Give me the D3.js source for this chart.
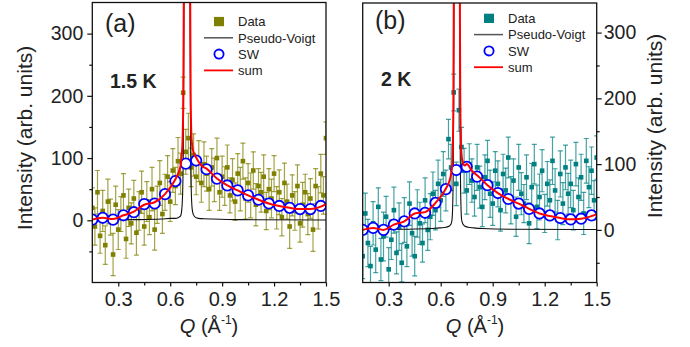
<!DOCTYPE html>
<html>
<head>
<meta charset="utf-8">
<script src="https://cdn.jsdelivr.net/npm/d3@7"></script>
<style>
  body { margin: 0; background: #fff; }
  svg { display: block; }
  text { font-family: "Liberation Sans", Arial, Helvetica, sans-serif; fill: #222; }
</style>
</head>
<body>
<div id="chart"></div>
<script>
// Q grid of the measured points (both panels)
const qGrid = [0.150,0.165,0.180,0.195,0.210,0.225,0.240,0.255,0.270,0.285,
  0.300,0.315,0.330,0.345,0.360,0.375,0.390,0.405,0.420,0.435,
  0.450,0.465,0.480,0.495,0.510,0.525,0.540,0.555,0.570,0.585,
  0.600,0.615,0.630,0.645,0.660,0.675,0.690,0.705,0.720,0.735,
  0.750,0.765,0.780,0.795,0.810,0.825,0.840,0.855,0.870,0.885,
  0.900,0.915,0.930,0.945,0.960,0.975,0.990,1.005,1.020,1.035,
  1.050,1.065,1.080,1.095,1.110,1.125,1.140,1.155,1.170,1.185,
  1.200,1.215,1.230,1.245,1.260,1.275,1.290,1.305,1.320,1.335,
  1.350,1.365,1.380,1.395,1.410,1.425,1.440,1.455,1.470,1.485,
  1.500];

// panel (a) 1.5 K
const dataA = [20,-10,45,-25,15,-40,30,5,-55,25,
  -15,10,40,-30,20,-5,35,-20,15,45,
  -10,30,5,50,-15,25,60,10,45,70,
  30,80,55,95,75,205,110,132,85,105,
  70,95,60,90,75,50,85,65,100,45,
  70,55,85,40,65,30,75,50,95,35,
  60,40,80,25,55,45,70,15,50,35,
  75,20,45,5,60,30,-10,40,15,55,
  -5,25,45,10,35,-15,55,20,75,40,
  132];
const errA = [32,30,35,28,33,31,36,29,34,30,
  32,28,35,31,30,33,29,36,31,34,
  30,32,28,35,33,30,36,31,29,34,
  32,35,30,38,33,25,36,40,31,34,
  29,33,31,36,28,34,30,35,32,29,
  33,31,36,28,34,30,32,35,29,33,
  31,36,30,34,28,32,35,30,33,31,
  29,34,36,30,32,28,35,33,31,34,
  30,36,29,33,32,35,28,34,31,30,
  26];

// panel (b) 2 K
const dataB = [-40,25,-20,-55,10,-30,35,-45,-10,20,
  -60,-15,30,-35,5,-50,15,-25,40,-5,
  -40,25,10,-20,45,0,20,55,30,70,
  45,85,60,138,95,209,70,182,126,90,
  60,100,75,50,95,65,35,80,105,55,
  40,90,70,30,85,60,110,45,75,20,
  95,55,40,80,10,65,100,35,50,90,
  25,70,45,105,60,15,85,40,95,55,
  70,30,100,50,80,25,105,65,90,45,
  110];
const errB = [34,31,36,30,33,35,29,32,37,31,
  33,30,35,32,36,29,34,31,33,35,
  30,36,32,29,34,31,35,33,30,36,
  32,34,31,30,35,28,33,32,30,34,
  36,31,33,29,35,32,30,34,31,36,
  33,29,35,32,30,34,31,36,33,30,
  35,32,29,34,31,36,30,33,35,32,
  29,34,31,36,33,30,35,32,34,31,
  36,30,33,29,35,32,34,31,36,30,
  33];

// spin-wave points (circles)
const swQ = [0.15,0.21,0.27,0.33,0.39,0.45,0.51,0.57,0.63,0.69,0.75,0.81,
  0.87,0.93,0.99,1.05,1.11,1.17,1.23,1.29,1.35,1.41,1.47];
const swA = [1,4,1,8,13,26,27,42,63,91,96,82,67,56,48,40,33,27,23,20,18,18,23];
const swB = [0,3,0,8,13,25,26,41,62,91,96,81,68,56,47,40,32,25,22,18,16,17,22];

// Pseudo-Voigt elastic line
const pvQA = [0.15,0.40,0.55,0.60,0.63,0.65,0.66,0.667,0.672,0.676,0.679,0.682,0.697,
  0.712,0.715,0.718,0.722,0.727,0.734,0.744,0.764,0.794,0.844,1.0,1.5];
const pvA = [0.5,1,2,3,3,5,7,18,45,120,300,600,1000,600,300,120,45,18,9,5,3,2.5,2,1,0.5];
const pvQB = [0.15,0.40,0.55,0.60,0.63,0.65,0.66,0.665,0.669,0.673,0.676,0.679,0.693,
  0.707,0.710,0.713,0.717,0.721,0.728,0.738,0.758,0.79,0.84,1.0,1.5];
const pvB = [0.5,1,2,3,4,6,9,15,35,110,300,600,1000,600,300,110,35,15,9,6,4,3,2,1,0.5];

// sum line
const sumQA = [0.15,0.21,0.27,0.33,0.39,0.45,0.51,0.57,0.63,0.65,0.66,0.667,0.672,0.676,0.679,0.682,
  0.697,0.712,0.715,0.718,0.722,0.727,0.734,0.75,0.764,0.78,0.81,0.87,0.93,0.99,1.05,1.11,1.17,
  1.23,1.29,1.35,1.41,1.47,1.50];
const sumA = [1,4,2,8,14,25,29,42,66,78,88,105,135,210,390,700,1100,700,390,210,140,120,110,
  101,94,88,83,67,56,48,40,33,27,23,20,18,18,22,26];
const sumQB = [0.15,0.21,0.27,0.33,0.39,0.45,0.51,0.57,0.63,0.65,0.66,0.665,0.669,0.673,0.676,0.679,
  0.693,0.707,0.710,0.713,0.717,0.721,0.728,0.738,0.75,0.78,0.81,0.87,0.93,0.99,1.05,1.11,1.17,
  1.23,1.29,1.35,1.41,1.47,1.50];
const sumB = [0,3,0,8,13,25,27,41,63,74,85,95,118,190,380,680,1100,680,380,195,130,112,103,
  98,100,90,83,68,56,47,40,32,25,21,18,16,17,21,24];

const xTicks = [0.3, 0.6, 0.9, 1.2, 1.5];
const xMinor = [0.45, 0.75, 1.05, 1.35];
const yTicks = [0, 100, 200, 300];
const yMinor = [-50, 50, 150, 250];

const svg = d3.select('#chart').append('svg')
  .attr('width', 690)
  .attr('height', 347);

function drawPanel(p) {
  const x = d3.scaleLinear().domain([0.15, 1.5]).range([p.left, p.right]);
  const y = d3.scaleLinear().domain(p.yDomain).range([282.5, p.top]);
  const g = svg.append('g');

  g.append('clipPath').attr('id', 'clip-' + p.id)
    .append('rect')
    .attr('x', p.left).attr('y', p.top)
    .attr('width', p.right - p.left).attr('height', 282.5 - p.top);

  const plot = g.append('g').attr('clip-path', `url(#clip-${p.id})`);

  // error bars
  const pts = qGrid.map((q, i) => ({ q: q, v: p.data[i], e: p.err[i] }));
  const eb = plot.append('g')
    .attr('stroke', p.color)
    .attr('stroke-opacity', 0.72)
    .attr('stroke-width', 1.2);
  eb.selectAll('.bar').data(pts).enter().append('line')
    .attr('x1', d => x(d.q)).attr('x2', d => x(d.q))
    .attr('y1', d => y(d.v - d.e)).attr('y2', d => y(d.v + d.e));
  eb.selectAll('.capT').data(pts).enter().append('line')
    .attr('x1', d => x(d.q) - 2.5).attr('x2', d => x(d.q) + 2.5)
    .attr('y1', d => y(d.v + d.e)).attr('y2', d => y(d.v + d.e));
  eb.selectAll('.capB').data(pts).enter().append('line')
    .attr('x1', d => x(d.q) - 2.5).attr('x2', d => x(d.q) + 2.5)
    .attr('y1', d => y(d.v - d.e)).attr('y2', d => y(d.v - d.e));

  plot.selectAll('.pt').data(pts).enter().append('rect')
    .attr('x', d => x(d.q) - 2.3).attr('y', d => y(d.v) - 2.3)
    .attr('width', 4.6).attr('height', 4.6)
    .attr('fill', p.color);

  const line = d3.line().x(d => x(d[0])).y(d => y(d[1])).curve(d3.curveMonotoneX);

  plot.append('path')
    .datum(p.pvQ.map((q, i) => [q, p.pv[i]]))
    .attr('d', line)
    .attr('fill', 'none').attr('stroke', '#111').attr('stroke-width', 1.1);

  plot.selectAll('.sw').data(swQ.map((q, i) => [q, p.sw[i]])).enter().append('circle')
    .attr('cx', d => x(d[0])).attr('cy', d => y(d[1]))
    .attr('r', 5.2)
    .attr('fill', '#fff').attr('stroke', '#0000ff').attr('stroke-width', 1.8);

  plot.append('path')
    .datum(p.sumQ.map((q, i) => [q, p.sum[i]]))
    .attr('d', line)
    .attr('fill', 'none').attr('stroke', '#ff0000').attr('stroke-width', 2);

  // frame
  g.append('rect')
    .attr('x', p.left).attr('y', p.top)
    .attr('width', p.right - p.left).attr('height', 282.5 - p.top)
    .attr('fill', 'none').attr('stroke', '#111').attr('stroke-width', 1.3);

  // x axis
  const xa = g.append('g').attr('transform', 'translate(0,282.5)')
    .call(d3.axisBottom(x).tickValues(xTicks).tickFormat(d3.format('.1f')).tickSize(4).tickPadding(5));
  g.append('g').attr('transform', 'translate(0,282.5)')
    .call(d3.axisBottom(x).tickValues(xMinor).tickFormat('').tickSize(3));

  // y axis
  const side = p.axisSide === 'left';
  const yAxis = side ? d3.axisLeft(y) : d3.axisRight(y);
  const yMin = side ? d3.axisLeft(y) : d3.axisRight(y);
  const ya = g.append('g').attr('transform', `translate(${side ? p.left : p.right},0)`)
    .call(yAxis.tickValues(yTicks).tickSize(5).tickPadding(side ? 4 : 2));
  g.append('g').attr('transform', `translate(${side ? p.left : p.right},0)`)
    .call(yMin.tickValues(yMinor).tickFormat('').tickSize(3));

  g.selectAll('.domain').remove();
  g.selectAll('.tick line').attr('stroke', '#111').attr('stroke-width', 1.2);
  xa.selectAll('.tick text').attr('font-size', '20px').attr('fill', '#222')
    .attr('font-family', '"Liberation Sans", Arial, sans-serif');
  ya.selectAll('.tick text').attr('font-size', '19.5px').attr('fill', '#222')
    .attr('font-family', '"Liberation Sans", Arial, sans-serif');

  // axis titles
  const xt = g.append('text')
    .attr('x', p.xTitle).attr('y', 333)
    .attr('text-anchor', 'middle')
    .attr('font-size', '20px');
  xt.append('tspan').attr('font-style', 'italic').text('Q');
  xt.append('tspan').text(' (Å');
  xt.append('tspan').attr('font-size', '12px').attr('dy', -9).text('-1');
  xt.append('tspan').attr('dy', 9).text(')');

  g.append('text')
    .attr('transform', `translate(${p.yTitleX},${p.yTitleY}) rotate(-90)`)
    .attr('text-anchor', 'middle')
    .attr('font-size', '21px')
    .text('Intensity (arb. units)');

  g.append('text')
    .attr('x', p.tagX).attr('y', p.tagY)
    .attr('font-size', '25px')
    .text(p.tag);

  g.append('text')
    .attr('x', p.tempX).attr('y', p.tempY)
    .attr('font-size', '19.5px').attr('font-weight', 'bold')
    .text(p.temp);

  // legend
  const lg = g.append('g').attr('transform', `translate(${p.legX},${p.legY})`);
  const rowH = 16.3;
  lg.append('rect').attr('x', -5).attr('y', -4.6).attr('width', 10).attr('height', 9.3)
    .attr('fill', p.color);
  lg.append('line').attr('x1', -15).attr('x2', 14).attr('y1', rowH).attr('y2', rowH)
    .attr('stroke', '#555').attr('stroke-width', 1.5);
  lg.append('circle').attr('cx', 0).attr('cy', rowH * 2).attr('r', 4.6)
    .attr('fill', '#fff').attr('stroke', '#0000ff').attr('stroke-width', 1.8);
  lg.append('line').attr('x1', -15).attr('x2', 14).attr('y1', rowH * 3).attr('y2', rowH * 3)
    .attr('stroke', '#ff0000').attr('stroke-width', 1.8);
  ['Data', 'Pseudo-Voigt', 'SW', 'sum'].forEach((t, i) => {
    lg.append('text').attr('x', 19).attr('y', i * rowH + 4.7)
      .attr('font-size', '13px').text(t);
  });
}

drawPanel({
  id: 'a', left: 92.3, right: 326, top: 2.5, yDomain: [-100, 350],
  data: dataA, err: errA, color: '#808000', sw: swA,
  pvQ: pvQA, pv: pvA, sumQ: sumQA, sum: sumA,
  axisSide: 'left', xTitle: 209, yTitleX: 32, yTitleY: 138,
  tag: '(a)', tagX: 105, tagY: 32, temp: '1.5 K', tempX: 110, tempY: 88,
  legX: 219, legY: 21.5
});

drawPanel({
  id: 'b', left: 362.7, right: 596.7, top: 3, yDomain: [-80, 345],
  data: dataB, err: errB, color: '#008080', sw: swB,
  pvQ: pvQB, pv: pvB, sumQ: sumQB, sum: sumB,
  axisSide: 'right', xTitle: 475, yTitleX: 662, yTitleY: 126,
  tag: '(b)', tagX: 375, tagY: 29, temp: '2 K', tempX: 381, tempY: 86,
  legX: 489, legY: 18.3
});
</script>
</body>
</html>
